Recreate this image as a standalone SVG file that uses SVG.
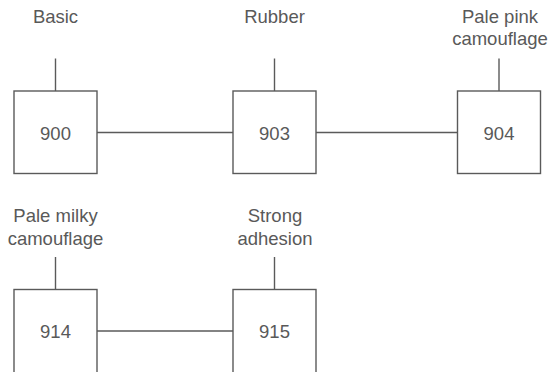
<svg xmlns="http://www.w3.org/2000/svg" width="551" height="372" viewBox="0 0 551 372">
<style>
.box{fill:#fff;stroke:#5a5a5a;stroke-width:1.4}
.ln{stroke:#5a5a5a;stroke-width:1.4;fill:none}
text{font-family:"Liberation Sans",Arial,sans-serif;font-size:18.5px;fill:#595959;text-anchor:middle}
</style>
<rect width="551" height="372" fill="#fff"/>
<g id="connectors">
<line class="ln" x1="97" y1="132.5" x2="233" y2="132.5"/>
<line class="ln" x1="316" y1="132.5" x2="457.5" y2="132.5"/>
<line class="ln" x1="97" y1="331" x2="233" y2="331"/>
<line class="ln" x1="55.5" y1="58.5" x2="55.5" y2="91"/>
<line class="ln" x1="274.5" y1="58.5" x2="274.5" y2="91"/>
<line class="ln" x1="499" y1="58.5" x2="499" y2="91"/>
<line class="ln" x1="55.5" y1="257" x2="55.5" y2="289.5"/>
<line class="ln" x1="274.5" y1="257" x2="274.5" y2="289.5"/>
</g>
<g id="n900"><rect class="box" x="14" y="91" width="83" height="82.5"/><text x="55.5" y="139.5">900</text></g>
<g id="n903"><rect class="box" x="233" y="91" width="83" height="82.5"/><text x="274.5" y="139.5">903</text></g>
<g id="n904"><rect class="box" x="457.5" y="91" width="83" height="82.5"/><text x="499" y="139.5">904</text></g>
<g id="n914"><rect class="box" x="14" y="289.5" width="83" height="84.5"/><text x="55.5" y="338">914</text></g>
<g id="n915"><rect class="box" x="233" y="289.5" width="83" height="84.5"/><text x="274.5" y="338">915</text></g>
<g id="l900"><text x="55.5" y="22.5">Basic</text></g>
<g id="l903"><text x="274.5" y="22.5">Rubber</text></g>
<g id="l904"><text x="500" y="22.5">Pale pink</text><text x="500" y="45">camouflage</text></g>
<g id="l914"><text x="55.5" y="222.3">Pale milky</text><text x="55.5" y="245">camouflage</text></g>
<g id="l915"><text x="275" y="222.3">Strong</text><text x="275" y="245">adhesion</text></g>
</svg>
